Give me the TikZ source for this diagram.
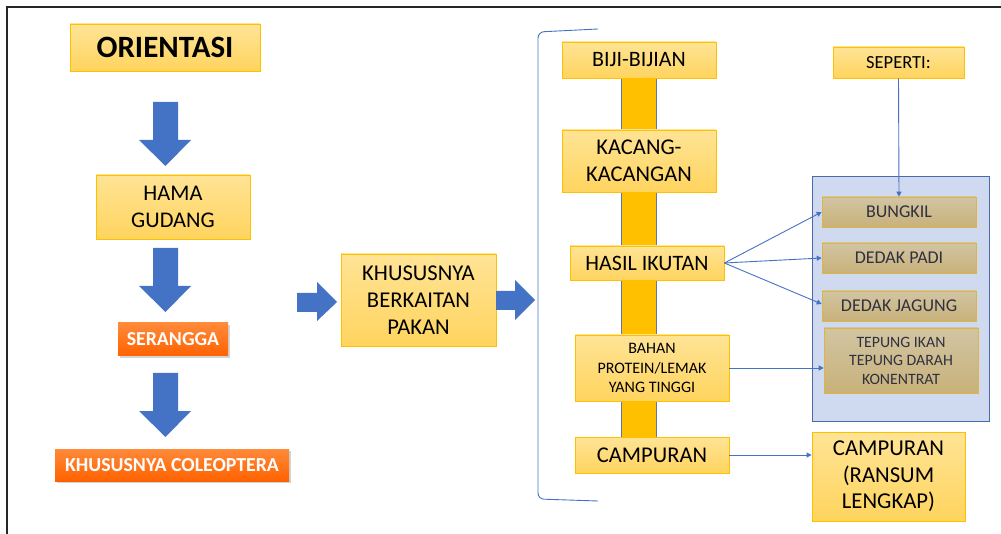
\documentclass[tikz,border=0pt]{standalone}
\usepackage{fontspec}
\setmainfont{Carlito}
\usetikzlibrary{arrows.meta,shadows}
\definecolor{ygold}{HTML}{FFC000}
\definecolor{ytop}{HTML}{FFE496}
\definecolor{ybot}{HTML}{FFD45E}
\definecolor{otop}{HTML}{FF8A3A}
\definecolor{obot}{HTML}{FF6200}
\definecolor{bblue}{HTML}{4472C4}
\definecolor{panelfill}{HTML}{CFDAF0}
\definecolor{paneldraw}{HTML}{4A6AA8}
\definecolor{ttop}{HTML}{D2C5A3}
\definecolor{tbot}{HTML}{C8B17A}
\definecolor{tdraw}{HTML}{DDB544}
\definecolor{ttext}{HTML}{30303F}
\tikzset{
  ybox/.style={draw=ygold, line width=0.8pt, top color=ytop, bottom color=ybot, align=center, inner sep=0pt},
  obox/.style={draw=none, top color=otop, bottom color=obot, text=white, align=center, inner sep=0pt,
     drop shadow={shadow xshift=1.5pt, shadow yshift=-2pt, opacity=0.35}},
  tbox/.style={draw=tdraw, line width=0.6pt, top color=ttop, bottom color=tbot, text=ttext, align=center, inner sep=0pt},
  blk/.style={fill=bblue},
  conn/.style={draw=bblue, line width=0.9pt, -{Triangle[length=5pt,width=5pt]}},
}
\begin{document}
\begin{tikzpicture}[x=1pt,y=-1pt]
\useasboundingbox (0,0) rectangle (1001,534);
% frame
\draw[line width=1.8pt, black!85] (7,534) -- (7,7) -- (1001,7);

% left column
\node[ybox, minimum width=190pt, minimum height=47pt, font={\fontsize{31}{34}\selectfont\bfseries}] (orient) at (165,47.5) {ORIENTASI};
\node[ybox, minimum width=154pt, minimum height=64pt, font={\fontsize{22.4}{26.7}\selectfont}] (hama) at (173,207) {HAMA\\GUDANG};
\node[obox, minimum width=110pt, minimum height=33pt, font={\fontsize{19.8}{23}\selectfont\bfseries}] (serangga) at (173,339.5) {SERANGGA};
\node[obox, minimum width=234pt, minimum height=32pt, font={\fontsize{19.8}{23}\selectfont\bfseries}] (coleo) at (172,465) {KHUSUSNYA COLEOPTERA};

% block arrows down
\fill[blk] (153,102) -- (178,102) -- (178,140) -- (191,140) -- (165.5,166) -- (139,140) -- (153,140) -- cycle;
\fill[blk] (153,248) -- (178,248) -- (178,286) -- (191,286) -- (165.5,312) -- (139,286) -- (153,286) -- cycle;
\fill[blk] (153,373) -- (178,373) -- (178,411) -- (191,411) -- (165.5,437) -- (139,411) -- (153,411) -- cycle;

% middle
\node[ybox, minimum width=155pt, minimum height=92pt, font={\fontsize{22.6}{26.7}\selectfont}] (pakan) at (418.5,300) {KHUSUSNYA\\BERKAITAN\\PAKAN};
\fill[blk] (297,293) -- (317,293) -- (317,282) -- (337,302) -- (317,321) -- (317,312) -- (297,312) -- cycle;
\fill[blk] (496,291) -- (515,291) -- (515,280) -- (535,300) -- (515,320) -- (515,310) -- (496,310) -- cycle;

% bracket
\draw[bblue, line width=0.9pt, rounded corners=6pt] (598,29) -- (538,32) -- (538,499) -- (598,501);

% vertical bar
\draw[fill=ygold, draw=bblue!60!gray, line width=0.6pt] (621,78) rectangle (656,437);

% category column
\node[ybox, minimum width=154pt, minimum height=36pt, font={\fontsize{22}{26}\selectfont}] (biji) at (639,60) {BIJI-BIJIAN};
\node[ybox, minimum width=154pt, minimum height=62pt, font={\fontsize{22.5}{26.7}\selectfont}] (kacang) at (639,161) {KACANG-\\KACANGAN};
\node[ybox, minimum width=154pt, minimum height=34pt, font={\fontsize{22}{26}\selectfont}] (hasil) at (647,263) {HASIL IKUTAN};
\node[ybox, minimum width=154pt, minimum height=66pt, font={\fontsize{16}{19.5}\selectfont}] (bahan) at (652,368) {BAHAN\\PROTEIN/LEMAK\\YANG TINGGI};
\node[ybox, minimum width=154pt, minimum height=36pt, font={\fontsize{22.5}{26}\selectfont}] (camp) at (652,455) {CAMPURAN};

% right side
\node[ybox, minimum width=131pt, minimum height=31pt, font={\fontsize{18.5}{22}\selectfont}] (seperti) at (898.5,62.5) {SEPERTI:};
\node[draw=paneldraw, fill=panelfill, line width=0.9pt, minimum width=177pt, minimum height=245pt, inner sep=0pt] (panel) at (900.5,298.5) {};
\node[tbox, minimum width=154pt, minimum height=30pt, font={\fontsize{18}{22}\selectfont}] (bungkil) at (899,212) {BUNGKIL};
\node[tbox, minimum width=154pt, minimum height=30pt, font={\fontsize{18}{22}\selectfont}] (padi) at (899,258) {DEDAK PADI};
\node[tbox, minimum width=154pt, minimum height=30pt, font={\fontsize{18}{22}\selectfont}] (jagung) at (899,306) {DEDAK JAGUNG};
\node[tbox, minimum width=154pt, minimum height=65pt, font={\fontsize{15.8}{18.5}\selectfont}] (tepung) at (901,360.5) {TEPUNG IKAN\\TEPUNG DARAH\\KONENTRAT};
\node[ybox, minimum width=153pt, minimum height=89pt, font={\fontsize{22.7}{26.7}\selectfont}] (ransum) at (888.5,476.5) {CAMPURAN\\(RANSUM\\LENGKAP)};

% connectors
\draw[conn] (seperti.south) -- (bungkil.north);
\draw[conn] (hasil.east) -- (bungkil.west);
\draw[conn] (hasil.east) -- (padi.west);
\draw[conn] (hasil.east) -- ([yshift=2pt]jagung.west);
\draw[conn] (bahan.east) -- (bahan.east -| tepung.west);
\draw[conn] (camp.east) -- (camp.east -| ransum.west);
\end{tikzpicture}
\end{document}
